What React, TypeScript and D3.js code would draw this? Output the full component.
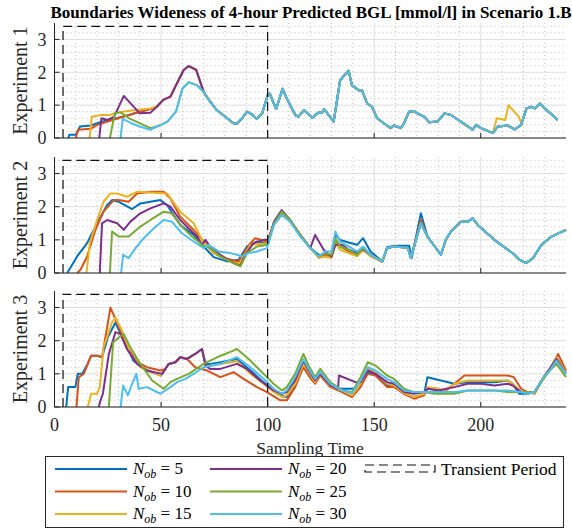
import React from 'react'
import * as d3 from 'd3'

type Pt = [number, number]

// MATLAB default line colours, one per observer length
const COLORS = ['#0072BD', '#D95319', '#EDB120', '#7E2F8E', '#77AC30', '#4DBEEE']
const NOB = [5, 10, 15, 20, 25, 30]
const Y_TICKS = [0, 1, 2, 3]
const X_TICKS = [0, 50, 100, 150, 200]
const PANEL_LABELS = ['Experiment 1', 'Experiment 2', 'Experiment 3']
const TRANSIENT_START = 4
const TRANSIENT_END = 100
const TRANSIENT_TOP = 3.4

// ---------- Experiment 1 ----------
const E1_UPPER: Pt[] = [[48, 0.95], [51, 1.16], [54.4, 1.26], [57.5, 1.67], [60.6, 2.07], [63, 2.19], [66.5, 2.07], [70, 1.4]]
const E1_LOWER: Pt[] = [[50, 0.4], [53, 0.5], [57, 0.8], [60, 1.5], [63, 1.7], [67, 1.6], [70, 1.4]]
const E1_TAIL: Pt[] = [
  [72, 1.2], [76, 0.86], [81, 0.6], [84, 0.45], [85.6, 0.43], [88, 0.6], [90.3, 0.8], [92.6, 0.72], [95, 0.58],
  [97.5, 0.76], [100, 1.3], [101, 1.35], [104, 0.88], [107, 1.5], [109, 1.2], [113, 0.7], [114.5, 0.65], [117, 0.85],
  [121, 0.62], [122.5, 0.7], [124, 0.78], [125.5, 0.76], [126.5, 0.88], [131, 0.5], [134, 1.75], [136.5, 1.95],
  [138, 2.05], [139.6, 1.6], [142.8, 1.45], [144.3, 1.45], [146.7, 1.05], [149, 0.95], [151.4, 0.6], [154.5, 0.45],
  [157.7, 0.3], [159.3, 0.38], [162.4, 0.3], [164, 0.45], [166.4, 0.8], [168.7, 0.82], [170.3, 0.75], [173.4, 0.65],
  [175.8, 0.48], [179.7, 0.5], [183, 0.75], [186, 0.7], [190.7, 0.5], [196.2, 0.25], [197.8, 0.4], [200.2, 0.3],
  [205.7, 0.15],
]
const E1_END: Pt[] = [
  [208, 0.35], [212.7, 0.38], [215.9, 0.26], [219, 0.4], [221.4, 0.9], [223.7, 0.95], [225.3, 0.9], [227.7, 1.05],
  [230, 0.9], [233.2, 0.72], [236, 0.55],
]
const E1_END_15: Pt[] = [
  [207.5, 0.6], [211.5, 0.55], [213, 1.0], [217.8, 0.65], [219, 0.45], [221.4, 0.9], [223.7, 0.95], [225.3, 0.9],
  [227.7, 1.05], [230, 0.9], [233.2, 0.72], [236, 0.55],
]
const E1_N5: Pt[] = [[6.5, 0], [7, 0.1], [10, 0.1], [12, 0.35], [17, 0.38], [20, 0.45], [25, 0.55], [30, 0.62], [35, 0.7], [40, 0.8], [45, 0.88]]
const E1_N10: Pt[] = [[10, 0], [11, 0.25], [17, 0.28], [20, 0.4], [25, 0.5], [30, 0.6], [35, 0.7], [40, 0.8], [45, 0.88]]
const E1_N15: Pt[] = [[16.5, 0], [17.5, 0.65], [22, 0.7], [26, 0.7], [28, 0.75], [32, 0.8], [38, 0.85], [45, 0.9]]
const E1_N20: Pt[] = [[21, 0], [22, 0.6], [25, 0.55], [28, 0.65], [32.5, 1.28], [40, 0.75], [45, 0.77]]
const E1_N25: Pt[] = [[26, 0], [28.3, 0.75], [31, 0.78], [35, 0.6], [40, 0.45], [45, 0.3], [48, 0.35]]
const E1_N30: Pt[] = [[31, 0], [32, 0.58], [36, 0.45], [40, 0.35], [45, 0.25], [48, 0.35]]

// ---------- Experiment 2 ----------
const E2_PEAK: Pt[] = [[103, 1.5], [106.6, 1.85], [110.5, 1.6], [115.3, 1.15], [120, 0.75]]
const E2_TAIL: Pt[] = [
  [175, 1.1], [181.3, 0.55], [183.6, 1.0], [186, 1.25], [190.7, 1.55], [193.9, 1.55], [196.2, 1.65], [198.6, 1.45],
  [206.4, 1.0], [215.9, 0.55], [218.2, 0.4], [221.4, 0.3], [224.5, 0.45], [228.5, 0.85], [233.2, 1.1], [240, 1.3],
]
const E2_DIP: Pt[] = [[156.1, 0.75], [159.3, 0.8], [165.8, 0.76], [167.2, 0.45]]
const E2_N5: Pt[] = [
  [6, 0], [10.6, 0.5], [15.3, 0.9], [20, 1.5], [24.7, 2.05], [27, 2.2], [30, 2.15], [36.4, 1.93], [40.3, 2.1],
  [49.7, 2.2], [52.8, 2.05], [59, 1.45], [65.3, 1.15], [70, 0.8], [74.7, 0.48], [81, 0.35], [86.4, 0.4], [90.3, 0.8],
  [95, 0.95], [99.7, 0.9], ...E2_PEAK,
  [124, 0.55], [127, 0.5], [130, 0.5], [131.8, 1.15], [134, 1.0], [138, 0.92], [142, 0.85], [144.8, 1.05], [148.3, 0.65],
  [153.8, 0.35], [156.1, 0.78], [159.3, 0.82], [166.4, 0.82], [167.6, 0.45], [171.9, 1.8], ...E2_TAIL,
]
const E2_N10: Pt[] = [
  [10.6, 0], [12.2, 0.1], [15.3, 0.5], [19.2, 1.3], [23, 1.85], [27.8, 2.2], [30, 2.2], [34.8, 2.15], [38.75, 2.4],
  [45, 2.45], [51.25, 2.45], [54.4, 2.25], [59, 1.7], [65.3, 1.3], [70, 0.95], [74.7, 0.6], [79.4, 0.45], [86.4, 0.35],
  [91.9, 0.9], [94.2, 1.05], [99.7, 0.95], ...E2_PEAK,
  [124, 0.5], [127, 0.55], [130, 0.5], [131.8, 1.0], [134, 0.8], [138, 0.65], [142, 0.55], [144.8, 0.75], [148.3, 0.55],
  [153.8, 0.33], ...E2_DIP, [171.9, 1.6], ...E2_TAIL,
]
const E2_N15: Pt[] = [
  [15, 0], [16.6, 0.9], [20, 1.6], [23, 2.15], [26.25, 2.4], [29.4, 2.4], [34, 2.3], [38.75, 2.45], [52.8, 2.4],
  [59, 1.85], [65.3, 1.5], [69.2, 1.0], [74.7, 0.6], [84, 0.3], [87.2, 0.3], [91.9, 0.85], [99.7, 0.9], ...E2_PEAK,
  [124, 0.45], [127, 0.5], [130, 0.45], [131.8, 0.9], [134, 0.7], [138, 0.6], [142, 0.5], [144.8, 0.7], [148.3, 0.5],
  [153.8, 0.33], ...E2_DIP, [171.9, 1.5], ...E2_TAIL,
]
const E2_N20: Pt[] = [
  [21.25, 0], [22.3, 1.5], [24.7, 1.6], [29.4, 1.5], [32.5, 1.3], [35.6, 1.55], [40.3, 1.8], [45, 1.95], [51.25, 2.1],
  [54.4, 2.0], [59, 1.6], [63.75, 1.3], [66.9, 1.1], [69.2, 0.85], [70.8, 1.0], [73, 0.8], [77.8, 0.55], [84, 0.3],
  [87.2, 0.22], [89.5, 0.55], [93.4, 0.9], [98.1, 1.0], [100.5, 1.0], [103, 1.55], [106.6, 1.9], [110.5, 1.6],
  [115.3, 1.15], [120, 0.75], [122.3, 1.15], [126.3, 0.7], [128, 0.6], [130, 0.5], [131.8, 0.85], [135, 0.85],
  [138, 0.7], [142, 0.6], [144.8, 0.72], [148.3, 0.55], [153.8, 0.35], ...E2_DIP, [171.9, 1.5], ...E2_TAIL,
]
const E2_N25: Pt[] = [
  [26, 0], [27, 1.25], [30.2, 1.1], [34.8, 1.1], [40.3, 1.4], [45, 1.6], [51.25, 1.85], [55, 1.8], [59.8, 1.4],
  [64.5, 1.1], [69.2, 0.85], [73, 0.75], [77.8, 0.5], [84, 0.3], [87.2, 0.2], [90.3, 0.6], [95, 0.8], [99.7, 0.85],
  ...E2_PEAK,
  [124, 0.5], [127, 0.6], [130, 0.55], [131.8, 1.05], [134, 0.8], [138, 0.7], [142, 0.55], [144.8, 0.75], [148.3, 0.55],
  [153.8, 0.35], ...E2_DIP, [171.9, 1.5], ...E2_TAIL,
]
const E2_N30: Pt[] = [
  [31.25, 0], [32.2, 0.55], [34.8, 0.45], [38, 0.75], [41.9, 1.05], [46.6, 1.35], [51.25, 1.6], [55, 1.55], [59.8, 1.2],
  [65.3, 0.95], [70, 0.75], [72.3, 0.85], [77, 0.65], [82.5, 0.6], [85.6, 0.55], [88, 0.5], [91, 0.6], [95, 0.65],
  [99.7, 0.75], [103, 1.45], [106.6, 1.75], [110.5, 1.55], [115.3, 1.1], [120, 0.75],
  [124, 0.5], [127, 0.65], [130, 0.65], [131.8, 1.25], [134, 0.95], [138, 0.8], [142, 0.65], [144.8, 0.8], [148.3, 0.55],
  [153.8, 0.35], ...E2_DIP, [171.9, 1.5], ...E2_TAIL,
]

// ---------- Experiment 3 ----------
const E3_STAIR: Pt[] = [[53.6, 1.3], [56.7, 1.35], [59, 1.5], [62.2, 1.45], [66, 1.6], [69.2, 1.75]]
const E3_N5: Pt[] = [
  [5.5, 0], [6.4, 0.6], [9.8, 0.6], [10.9, 1.0], [13, 1.0], [15.6, 1.3], [17.2, 1.55], [20, 1.55], [22.3, 1.5], [25, 2.1],
  [28.6, 2.55], [32.5, 2.0], [37, 1.4], [43.4, 1.1], [50, 0.95], ...E3_STAIR,
  [71, 1.3], [73, 1.3], [78, 1.35], [85.6, 1.45], [92, 1.1], [98, 0.75], [103, 0.5], [107, 0.33],
  [109, 0.3], [112.9, 0.65], [116.8, 1.3], [119.2, 1.0], [122.3, 0.72], [124.7, 0.98], [129.4, 0.6], [134.9, 0.55],
  [140.5, 0.55], [143.6, 0.65], [147, 1.05], [150.6, 0.98], [156.1, 0.65], [159.3, 0.62], [164, 0.4], [168.7, 0.3],
  [173.4, 0.38], [175, 0.9], [187.6, 0.7], [193.9, 0.75], [200.2, 0.75], [206.4, 0.75], [212.7, 0.8], [215, 0.7],
  [218, 0.4], [222, 0.4], [225.3, 0.45], [230, 0.95], [232.4, 1.15], [235.5, 1.5], [240, 1.1],
]
const E3_N10: Pt[] = [
  [10.3, 0], [11.4, 0.9], [13.75, 1.0], [15.6, 1.3], [17.2, 1.55], [20, 1.55], [22.3, 1.5], [26.25, 3.0], [28.6, 2.65],
  [31.7, 2.2], [34.8, 1.75], [38.75, 1.35], [43.4, 1.2], [49.7, 1.1], [52, 1.15], [53.6, 1.3], [56.7, 1.35], [59, 1.5],
  [62.2, 1.45], [66, 1.2], [71.6, 1.1], [77.8, 0.9], [84, 1.05], [88.75, 0.85], [95, 0.6], [99.7, 0.45], [106, 0.2],
  [109, 0.2], [112.9, 0.6], [116.8, 1.2], [119.2, 0.95], [122.3, 0.7], [124.7, 0.95], [129.4, 0.6], [134.9, 0.45],
  [139.6, 0.3], [143.6, 0.6], [147, 1.0], [150.6, 0.95], [156.1, 0.6], [159.3, 0.6], [164, 0.4], [168.7, 0.25],
  [173.4, 0.35], [175, 0.55], [179, 0.55], [182.9, 0.45], [187.6, 0.7], [192.3, 0.95], [200.2, 0.95], [206.4, 0.95],
  [212.7, 0.95], [215.5, 0.9], [219, 0.55], [222, 0.45], [225.3, 0.4], [230, 0.95], [233.2, 1.2], [236.3, 1.6], [240, 1.1],
]
const E3_N15: Pt[] = [
  [15.6, 0], [17.2, 0.4], [20, 0.4], [21.25, 0.6], [23, 1.8], [27, 2.55], [28.6, 2.7], [31.7, 2.3], [35.6, 1.6],
  [40.3, 1.2], [49.7, 0.95], ...E3_STAIR,
  [71, 1.2], [73, 1.25], [78, 1.3], [85.6, 1.38], [92, 1.0], [98, 0.7], [103, 0.45], [107, 0.3],
  [109, 0.35], [112.9, 0.7], [116.8, 1.3], [119.2, 1.05], [122.3, 0.75], [124.7, 1.0], [129.4, 0.62], [134.9, 0.5],
  [139.6, 0.35], [143.6, 0.7], [147, 1.15], [150.6, 1.05], [156.1, 0.7], [159.3, 0.65], [164, 0.42], [168.7, 0.3],
  [173.4, 0.4], [175, 0.6], [180, 0.55], [183, 0.5], [187.6, 0.7], [193.9, 0.8], [200.2, 0.8], [206.4, 0.8],
  [212.7, 0.8], [215, 0.7], [219, 0.45], [225.3, 0.42], [230, 0.95], [232.4, 1.15], [235.5, 1.5], [240, 1.05],
]
const E3_N20: Pt[] = [
  [20.8, 0], [21.6, 0.2], [22.7, 0.4], [25.5, 1.6], [28.6, 2.26], [31, 2.2], [34, 1.75], [38.75, 1.3], [43.4, 1.1],
  [50.5, 1.0], ...E3_STAIR,
  [70.8, 1.25], [73, 1.15], [77.8, 1.15], [85.6, 1.3], [90.3, 1.15], [96.5, 0.8], [102.8, 0.5], [106.7, 0.4],
  [109, 0.45], [112.9, 0.8], [116.8, 1.4], [119.2, 1.1], [122.3, 0.8], [124.7, 1.0], [129.4, 0.65], [133, 0.55],
  [133.5, 0.95], [141.2, 0.75], [143.6, 0.75], [147, 1.1], [150.6, 1.0], [156.1, 0.75], [159.3, 0.7], [164, 0.45],
  [168.7, 0.4], [173.4, 0.45], [175, 0.55], [180, 0.5], [187.6, 0.6], [193.9, 0.7], [200.2, 0.7], [206.4, 0.65],
  [212.7, 0.7], [215, 0.65], [219, 0.45], [225.3, 0.45], [230, 0.95], [232.4, 1.15], [235.5, 1.45], [240, 1.0],
]
const E3_N25: Pt[] = [
  [25.5, 0], [27.5, 1.95], [30.2, 2.1], [32.5, 2.2], [35.6, 1.8], [40.3, 1.3], [45.8, 0.8], [51.25, 0.55], [54.4, 0.75],
  [57.5, 0.85], [63, 1.0], [70, 1.3], [76.25, 1.5], [84, 1.7], [85.6, 1.75], [91.9, 1.4], [98.1, 1.0], [102.8, 0.7],
  [106.7, 0.5], [109, 0.6], [112.9, 1.0], [116.8, 1.6], [119.2, 1.25], [122.3, 0.9], [124.7, 1.15], [129.4, 0.75],
  [134.9, 0.5], [139.6, 0.45], [143.6, 0.9], [147, 1.35], [150.6, 1.25], [156.1, 0.95], [159.3, 0.85], [164, 0.55],
  [168.7, 0.45], [173.4, 0.45], [178.1, 0.4], [187.6, 0.4], [193.9, 0.5], [200.2, 0.5], [206.4, 0.5], [212.7, 0.45],
  [219, 0.45], [225.3, 0.45], [230, 0.9], [232.4, 1.1], [235.5, 1.3], [240, 0.9],
]
const E3_N30: Pt[] = [
  [31, 0], [32.2, 0.65], [34.4, 0.35], [36.4, 0.7], [38.4, 1.0], [39.5, 0.55], [43.4, 0.6], [49.7, 0.4], [54.4, 0.6],
  [57.5, 0.75], [61.4, 0.85], [65.3, 1.0], [70, 1.2], [77.8, 1.3], [85.6, 1.5], [91.9, 1.2], [98.1, 0.85], [102.8, 0.55],
  [106.7, 0.4], [109, 0.5], [112.9, 0.9], [116.8, 1.45], [119.2, 1.15], [122.3, 0.85], [124.7, 1.05], [129.4, 0.7],
  [134.9, 0.5], [139.6, 0.42], [143.6, 0.8], [147, 1.2], [150.6, 1.1], [156.1, 0.85], [159.3, 0.75], [164, 0.5],
  [168.7, 0.45], [173.4, 0.45], [178.1, 0.45], [187.6, 0.45], [193.9, 0.5], [200.2, 0.5], [206.4, 0.5], [212.7, 0.5],
  [219, 0.45], [222, 0.4], [225.3, 0.45], [230, 0.95], [232.4, 1.1], [235.5, 1.4], [240, 1.0],
]

const EXPERIMENTS: Pt[][][] = [
  [
    [...E1_N5, ...E1_UPPER, ...E1_TAIL, ...E1_END],
    [...E1_N10, ...E1_UPPER, ...E1_TAIL, ...E1_END],
    [...E1_N15, ...E1_UPPER, ...E1_TAIL, ...E1_END_15],
    [...E1_N20, ...E1_UPPER, ...E1_TAIL, ...E1_END],
    [...E1_N25, ...E1_LOWER, ...E1_TAIL, ...E1_END],
    [...E1_N30, ...E1_LOWER, ...E1_TAIL, ...E1_END],
  ],
  [E2_N5, E2_N10, E2_N15, E2_N20, E2_N25, E2_N30],
  [E3_N5, E3_N10, E3_N15, E3_N20, E3_N25, E3_N30],
]

const W = 572
const H = 529
const FONT = 'Liberation Serif'
const PANELS = [
  { top: 23, bottom: 138 },
  { top: 157, bottom: 273 },
  { top: 291, bottom: 407 },
]

const x = d3.scaleLinear().domain([0, 240]).range([54.5, 566])
const minorX = d3.range(10, 240, 10).filter(v => v % 50 !== 0)
const minorY = d3.range(1, 18).map(i => i * 0.2).filter(v => Math.abs(v - Math.round(v)) > 0.01)

function Label(props: any) {
  // every text gets the serif family both as attribute and inline style
  return <text fontFamily={FONT} style={{ fontFamily: FONT }} fill="#262626" {...props} />
}

function Panel({ idx }: { idx: number }) {
  const { top, bottom } = PANELS[idx]
  const y = d3.scaleLinear().domain([0, 3.5]).range([bottom, top])
  const line = d3.line<Pt>().x(d => x(d[0])).y(d => y(d[1]))
  const [x0, x1] = x.range()
  const tx0 = x(TRANSIENT_START)
  const tx1 = x(TRANSIENT_END)
  const ty = y(TRANSIENT_TOP)
  const midY = (top + bottom) / 2

  return (
    <g>
      {/* minor grid */}
      {minorY.map(v => (
        <line key={`my${v}`} x1={x0} x2={x1} y1={y(v)} y2={y(v)} stroke="#b0b0b0" strokeWidth={0.8} strokeDasharray="1,3" />
      ))}
      {minorX.map(v => (
        <line key={`mx${v}`} x1={x(v)} x2={x(v)} y1={top} y2={bottom} stroke="#b0b0b0" strokeWidth={0.8} strokeDasharray="1,3" />
      ))}
      {/* major grid */}
      {Y_TICKS.map(v => (
        <line key={`gy${v}`} x1={x0} x2={x1} y1={y(v)} y2={y(v)} stroke="#dedede" strokeWidth={1} />
      ))}
      {X_TICKS.map(v => (
        <line key={`gx${v}`} x1={x(v)} x2={x(v)} y1={top} y2={bottom} stroke="#dedede" strokeWidth={1} />
      ))}

      {EXPERIMENTS[idx].map((s, i) => (
        <path key={i} d={line(s) || ''} fill="none" stroke={COLORS[i]} strokeWidth={2} strokeLinejoin="round" />
      ))}

      <path
        d={`M${tx0},${bottom}L${tx0},${ty}L${tx1},${ty}L${tx1},${bottom}`}
        fill="none" stroke="#111" strokeWidth={1.2} strokeDasharray="9,5"
      />

      {/* axes */}
      <line x1={x0} x2={x0} y1={top} y2={bottom} stroke="#222" strokeWidth={1} />
      <line x1={x0} x2={x1} y1={bottom} y2={bottom} stroke="#222" strokeWidth={1} />
      {Y_TICKS.map(v => (
        <g key={`ty${v}`}>
          <line x1={x0} x2={x0 + 5} y1={y(v)} y2={y(v)} stroke="#222" />
          <Label x={x0 - 8} y={y(v)} dy="0.35em" textAnchor="end" fontSize={18}>{v}</Label>
        </g>
      ))}
      {X_TICKS.map(v => (
        <line key={`tx${v}`} x1={x(v)} x2={x(v)} y1={bottom} y2={bottom - 5} stroke="#222" />
      ))}
      <Label transform={`translate(27,${midY}) rotate(-90)`} textAnchor="middle" fontSize={20}>
        {PANEL_LABELS[idx]}
      </Label>
    </g>
  )
}

export default function App() {
  const lastBottom = PANELS[2].bottom
  return (
    <svg width={W} height={H} style={{ position: 'absolute', left: 0, top: 0, background: '#fff' }}>
      <rect width={W} height={H} fill="#fff" />
      <Label x={311} y={18} textAnchor="middle" fontSize={17} fontWeight="bold" fill="#000">
        Boundaries Wideness of 4-hour Predicted BGL [mmol/l] in Scenario 1.B
      </Label>
      {PANELS.map((_, i) => <Panel key={i} idx={i} />)}

      {X_TICKS.map(v => (
        <Label key={v} x={x(v)} y={lastBottom + 24} textAnchor="middle" fontSize={18}>{v}</Label>
      ))}
      <Label x={310} y={lastBottom + 47} textAnchor="middle" fontSize={17.5}>Sampling Time</Label>

      {/* legend */}
      <g>
        <rect x={45.5} y={456.5} width={518} height={71} fill="#fff" stroke="#262626" strokeWidth={1} />
        {NOB.map((n, i) => {
          const col = Math.floor(i / 3)
          const row = i % 3
          const lx = 55 + col * 155
          const ly = 469 + row * 22.5
          return (
            <g key={n}>
              <line x1={lx} x2={lx + 72} y1={ly} y2={ly} stroke={COLORS[i]} strokeWidth={2} />
              <Label x={lx + 78} y={ly + 5} fontSize={17} fill="#000">
                <tspan fontStyle="italic">N</tspan>
                <tspan fontStyle="italic" fontSize={12} dy={4}>ob</tspan>
                <tspan dy={-4}>{` = ${n}`}</tspan>
              </Label>
            </g>
          )
        })}
        <rect x={365} y={465} width={70} height={7} fill="none" stroke="#111" strokeWidth={1.2} strokeDasharray="9,5" />
        <Label x={441} y={475} fontSize={17.5} fill="#000">Transient Period</Label>
      </g>
    </svg>
  )
}
